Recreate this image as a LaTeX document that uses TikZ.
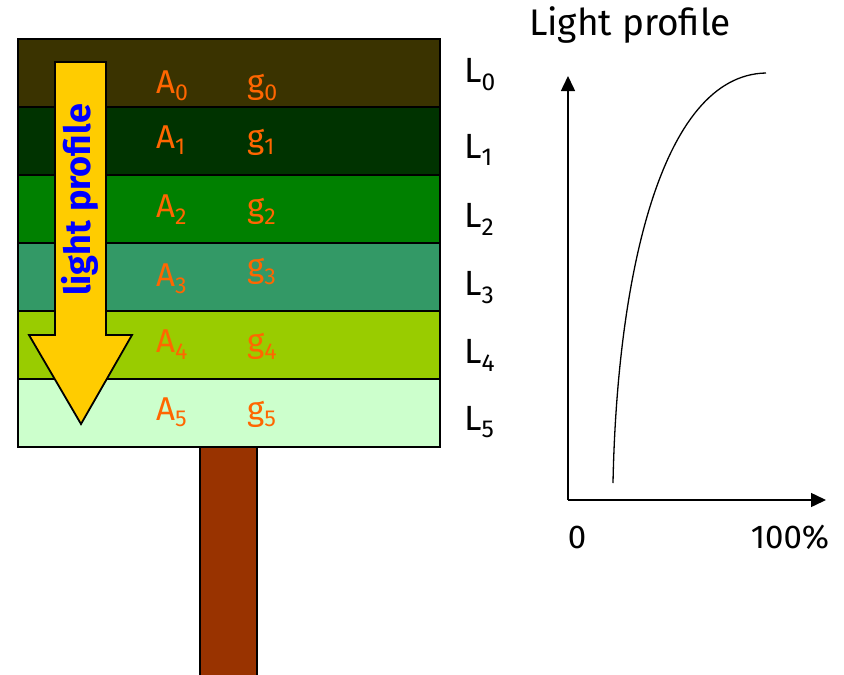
\documentclass[tikz,border=0pt]{standalone}
\usepackage{fontspec}
\setmainfont{Fira Sans}
\usetikzlibrary{arrows.meta}
\definecolor{lay0}{HTML}{3A3300}
\definecolor{lay1}{HTML}{003300}
\definecolor{lay2}{HTML}{008000}
\definecolor{lay3}{HTML}{339966}
\definecolor{lay4}{HTML}{99CC00}
\definecolor{lay5}{HTML}{CCFFCC}
\definecolor{trunk}{HTML}{993300}
\definecolor{beam}{HTML}{FFCC00}
\definecolor{lblorange}{HTML}{FF6600}
\begin{document}
\begin{tikzpicture}[x=1pt,y=-1pt,
    lbl/.style={text=lblorange,inner sep=0,anchor=base west,font=\fontsize{33}{36}\selectfont},
    laylbl/.style={inner sep=0,anchor=base west,font=\fontsize{35}{38}\selectfont},
    axis/.style={line width=1.5pt,-{Triangle[length=15pt,width=14pt]}}]
    \useasboundingbox (0,0) rectangle (844,675);
    % trunk and canopy
    \filldraw[fill=trunk,line width=1.5pt] (200,447) rectangle (257,676);
    \foreach \c [count=\i from 0] in {lay0,lay1,lay2,lay3,lay4,lay5}{
        \filldraw[fill=\c,line width=1.3pt] (18,{39+68*\i}) rectangle (440,{107+68*\i});
    }
    \filldraw[fill=beam,line width=1.8pt] (55,62) -- (106,62) -- (106,335) -- (132,335)
        -- (81,424) -- (29,335) -- (55,335) -- cycle;
    \node[rotate=90,text=blue,font=\fontsize{36}{38}\selectfont\bfseries] (beamtxt) at (80,200) {light profile};

    \foreach \i/\ya/\yg/\yl in {0/93/93/82,1/148/148/158,2/217/217/227,3/286/277/295,4/352/352/363,5/420/420/430}{
        \node[lbl] (A\i) at (156,\ya) {A\textsubscript{\i}};
        \node[lbl] (g\i) at (247,\yg) {g\textsubscript{\i}};
        \node[laylbl] (L\i) at (464,\yl) {L\textsubscript{\i}};
    }

    % light profile graph
    \coordinate (O) at (568,500);
    \coordinate (ytop) at (568,76);
    \coordinate (xend) at (826,500);
    \draw[axis] (O) -- (ytop);
    \draw[axis] (O) -- (xend);
    \draw[line width=1.3pt] (613,483) .. controls (617,280) and (660,75) .. (766,73);
    \node[font=\fontsize{33}{36}\selectfont] (zero) at (577,537) {0};
    \node[font=\fontsize{33}{36}\selectfont] (full) at (790,537) {100\%};
    \node[font=\fontsize{37}{40}\selectfont] (title) at (630,25) {Light profile};
\end{tikzpicture}
\end{document}
